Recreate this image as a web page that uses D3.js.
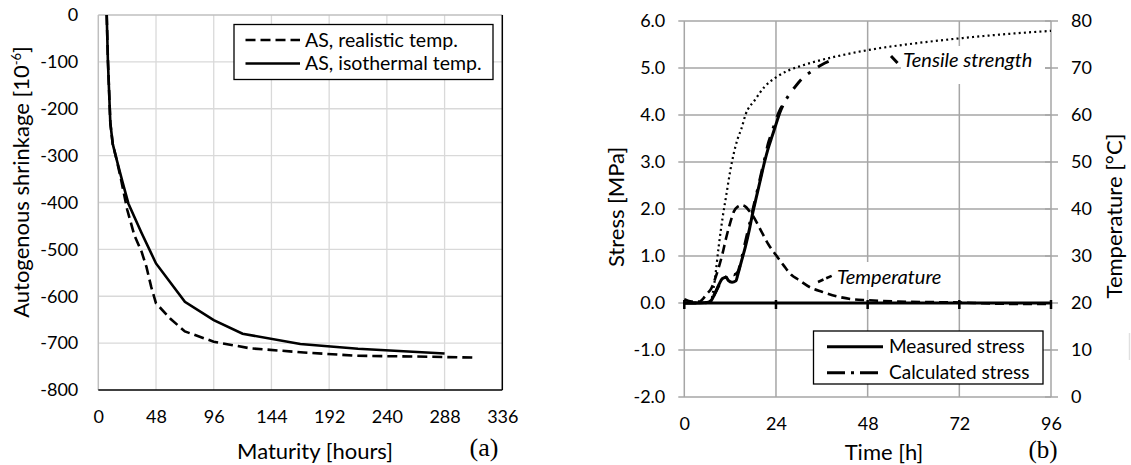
<!DOCTYPE html>
<html>
<head>
<meta charset="utf-8">
<script src="https://cdn.jsdelivr.net/npm/d3@7"></script>
<style>
body { margin: 0; background: #fff; }
text { font-family: Lato, "Open Sans", sans-serif; fill: #000; }
</style>
</head>
<body>
<div id="chart"></div>
<script>
// ---- (a) autogenous shrinkage ----
const maturityRealistic = [7, 8, 10, 12, 15, 19, 24, 30, 36, 40, 44, 48, 60, 72, 96, 126, 171, 215, 275, 315];
const shrinkRealistic = [0, -95, -230, -275, -306, -352, -415, -470, -505, -537, -580, -615, -648, -675, -697, -711, -720, -727, -729, -731];
const maturityIsothermal = [7, 8, 10, 12, 15, 20, 25, 36, 48, 72, 96, 120, 168, 216, 288];
const shrinkIsothermal = [0, -100, -230, -275, -306, -355, -402, -465, -530, -612, -651, -680, -702, -712, -722];
const maturityTicks = [0, 48, 96, 144, 192, 240, 288, 336];
const shrinkTicks = [0, -100, -200, -300, -400, -500, -600, -700, -800];

// ---- (b) stress and temperature ----
const timeMeasured = [0, 4, 6, 7, 8, 9, 10, 11, 11.5, 12.5, 13.5, 14, 15, 16, 17, 18, 19, 20, 21, 22, 23, 24, 25, 25.8];
const stressMeasured = [0, 0, 0.01, 0.05, 0.2, 0.38, 0.52, 0.55, 0.48, 0.44, 0.47, 0.6, 0.9, 1.2, 1.55, 1.95, 2.3, 2.65, 3.0, 3.3, 3.55, 3.8, 4.05, 4.2];
const timeCalculated = [0, 4, 6, 7, 8, 9, 10, 11, 12, 13, 14, 15, 16, 17, 18, 19, 20, 21, 22, 23, 24, 25, 26, 27.2, 29, 31, 33.5, 36, 39];
const stressCalculated = [0, 0, 0.01, 0.05, 0.2, 0.36, 0.5, 0.56, 0.65, 0.6, 0.66, 0.95, 1.3, 1.65, 2.0, 2.35, 2.7, 3.05, 3.4, 3.65, 3.9, 4.1, 4.25, 4.4, 4.6, 4.79, 4.94, 5.07, 5.18];
const timeStrength = [7, 8, 9, 10, 11, 12, 13, 14, 15, 16, 18.5, 21, 24, 27, 30, 34, 40, 48, 60, 72, 84, 96];
const tensileStrength = [0, 0.5, 1.2, 1.8, 2.3, 2.8, 3.2, 3.5, 3.72, 4.0, 4.32, 4.6, 4.8, 4.94, 5.03, 5.13, 5.25, 5.38, 5.52, 5.63, 5.72, 5.79];
const timeTemp = [0, 2, 4, 5, 6, 7, 8, 9, 10, 11, 12, 13, 14, 15, 16, 17, 18, 20, 22, 24, 26, 28, 30, 33, 36, 40, 44, 48, 56, 64, 72, 80, 88, 96];
const temperature = [20.8, 20.3, 20.3, 21, 22, 23, 25, 27.5, 30.5, 34, 37, 39.5, 40.5, 40.8, 40.5, 39.6, 38.5, 35.5, 32.5, 30.2, 28, 26, 24.9, 23.3, 22.4, 21.4, 20.8, 20.6, 20.3, 20.2, 20.1, 19.9, 19.8, 19.8];
const timeTicks = [0, 24, 48, 72, 96];
const stressTicks = [-2, -1, 0, 1, 2, 3, 4, 5, 6];
const tempTicks = [0, 10, 20, 30, 40, 50, 60, 70, 80];

const width = 1131, height = 465;
const svg = d3.select("#chart").append("svg").attr("width", width).attr("height", height);
const hyphen = s => s.replace("\u2212", "-");

// ================= chart (a) =================
const xA = d3.scaleLinear().domain([0, 336]).range([98.3, 502.3]);
const yA = d3.scaleLinear().domain([-800, 0]).range([390, 15]);
const gA = svg.append("g");

// gridlines
gA.append("g").selectAll("line.v").data(maturityTicks.slice(1, -1)).join("line")
    .attr("x1", d => xA(d)).attr("x2", d => xA(d)).attr("y1", yA(0)).attr("y2", yA(-800))
    .attr("stroke", "#d9d9d9").attr("stroke-width", 1.3);
gA.append("g").selectAll("line.h").data(shrinkTicks.slice(1, -1)).join("line")
    .attr("x1", xA(0)).attr("x2", xA(336)).attr("y1", d => yA(d)).attr("y2", d => yA(d))
    .attr("stroke", "#d9d9d9").attr("stroke-width", 1.3);
// frame: top/left gray, bottom/right black
gA.append("line").attr("x1", xA(0)).attr("x2", xA(336)).attr("y1", yA(0)).attr("y2", yA(0)).attr("stroke", "#bfbfbf").attr("stroke-width", 1.5);
gA.append("line").attr("x1", xA(0)).attr("x2", xA(0)).attr("y1", yA(0)).attr("y2", yA(-800)).attr("stroke", "#bfbfbf").attr("stroke-width", 1.5);
gA.append("line").attr("x1", xA(0)).attr("x2", xA(336)).attr("y1", yA(-800)).attr("y2", yA(-800)).attr("stroke", "#000").attr("stroke-width", 1.5);
gA.append("line").attr("x1", xA(336)).attr("x2", xA(336)).attr("y1", yA(0)).attr("y2", yA(-800)).attr("stroke", "#000").attr("stroke-width", 1.5);

// tick labels via d3 axes (no tick lines)
const axA_y = gA.append("g").attr("transform", `translate(${xA(0)},0)`)
    .call(d3.axisLeft(yA).tickValues(shrinkTicks).tickSize(0).tickPadding(20).tickFormat(d => hyphen(d3.format("d")(d))));
const axA_x = gA.append("g").attr("transform", `translate(0,${yA(-800)})`)
    .call(d3.axisBottom(xA).tickValues(maturityTicks).tickSize(0).tickPadding(20).tickFormat(d3.format("d")));
[axA_y, axA_x].forEach(ax => {
    ax.select(".domain").remove();
    ax.selectAll("text").style("font-size", "18px").style("font-family", "Lato");
});
axA_x.selectAll("text").attr("dy", "0.71em").attr("y", 20);

const lineA = d3.line().x(d => xA(d[0])).y(d => yA(d[1]));
gA.append("path").datum(d3.zip(maturityRealistic, shrinkRealistic))
    .attr("d", lineA).attr("fill", "none").attr("stroke", "#000").attr("stroke-width", 2.6)
    .attr("stroke-dasharray", "10,5");
gA.append("path").datum(d3.zip(maturityIsothermal, shrinkIsothermal))
    .attr("d", lineA).attr("fill", "none").attr("stroke", "#000").attr("stroke-width", 2.6);

// legend (a)
const legA = gA.append("g");
legA.append("rect").attr("x", 234).attr("y", 24.5).attr("width", 259).attr("height", 55)
    .attr("fill", "#fff").attr("stroke", "#000").attr("stroke-width", 1.3);
const legAItems = [{ label: "AS, realistic temp.", dash: "10,5" }, { label: "AS, isothermal temp.", dash: null }];
legA.selectAll("g.item").data(legAItems).join("g").attr("class", "item")
    .attr("transform", (d, i) => `translate(0,${40 + i * 23.5})`)
    .each(function (d) {
        const g = d3.select(this);
        g.append("line").attr("x1", 245.5).attr("x2", 300).attr("stroke", "#000").attr("stroke-width", 2.6)
            .attr("stroke-dasharray", d.dash);
        g.append("text").attr("x", 305).attr("dy", "0.35em").style("font-size", "19.5px").text(d.label);
    });

// titles (a)
gA.append("text").attr("transform", "translate(29,182) rotate(-90)").attr("text-anchor", "middle")
    .style("font-size", "22px")
    .call(t => {
        t.append("tspan").text("Autogenous shrinkage [10");
        t.append("tspan").attr("baseline-shift", "super").style("font-size", "13px").text("-6");
        t.append("tspan").text("]");
    });
gA.append("text").attr("x", 315).attr("y", 451).attr("dy", "0.35em").attr("text-anchor", "middle")
    .style("font-size", "22px").text("Maturity [hours]");
gA.append("text").attr("x", 484).attr("y", 447).attr("dy", "0.35em").attr("text-anchor", "middle")
    .style("font-family", "'Liberation Serif', serif").style("font-size", "26px").text("(a)");

// ================= chart (b) =================
const xB = d3.scaleLinear().domain([0, 96]).range([684.3, 1051]);
const yB = d3.scaleLinear().domain([-2, 6]).range([397, 21]);
const yT = d3.scaleLinear().domain([0, 80]).range([397, 21]);
const gB = svg.append("g");
const gridGray = "#a6a6a6";

// vertical gridlines (incl. left and right axis lines)
gB.append("g").selectAll("line").data(timeTicks).join("line")
    .attr("x1", d => xB(d)).attr("x2", d => xB(d)).attr("y1", yB(6)).attr("y2", yB(-2))
    .attr("stroke", gridGray).attr("stroke-width", 1.5);
// horizontal gridlines with outward ticks on the left
gB.append("g").selectAll("line").data(stressTicks).join("line")
    .attr("x1", xB(0) - 6).attr("x2", xB(96)).attr("y1", d => yB(d)).attr("y2", d => yB(d))
    .attr("stroke", gridGray).attr("stroke-width", 1.5);
// right axis ticks (cross the axis)
gB.append("g").selectAll("line").data(tempTicks).join("line")
    .attr("x1", xB(96) - 6).attr("x2", xB(96) + 7).attr("y1", d => yT(d)).attr("y2", d => yT(d))
    .attr("stroke", gridGray).attr("stroke-width", 1.5);

// tick labels
const axB_y = gB.append("g").attr("transform", `translate(${xB(0)},0)`)
    .call(d3.axisLeft(yB).tickValues(stressTicks).tickSize(0).tickPadding(19).tickFormat(d => hyphen(d3.format(".1f")(d))));
const axB_r = gB.append("g").attr("transform", `translate(${xB(96)},0)`)
    .call(d3.axisRight(yT).tickValues(tempTicks).tickSize(0).tickPadding(20).tickFormat(d3.format("d")));
const axB_x = gB.append("g").attr("transform", `translate(0,${yB(-2)})`)
    .call(d3.axisBottom(xB).tickValues(timeTicks).tickSize(0).tickPadding(20).tickFormat(d3.format("d")));
[axB_y, axB_r, axB_x].forEach(ax => {
    ax.select(".domain").remove();
    ax.selectAll("text").style("font-size", "18px").style("font-family", "Lato");
});
axB_x.selectAll("text").attr("dy", "0.71em").attr("y", 20);

// label backgrounds (hide gridlines behind leader labels)
gB.append("rect").attr("x", 901).attr("y", 46).attr("width", 144).attr("height", 38).attr("fill", "#fff");
gB.append("rect").attr("x", 835).attr("y", 262).attr("width", 106).attr("height", 28).attr("fill", "#fff");

// zero axis line with ticks
gB.append("line").attr("x1", xB(0) - 1).attr("x2", xB(96)).attr("y1", yB(0)).attr("y2", yB(0))
    .attr("stroke", "#000").attr("stroke-width", 3);
gB.append("g").selectAll("line").data(timeTicks).join("line")
    .attr("x1", d => xB(d)).attr("x2", d => xB(d)).attr("y1", yB(0) - 3).attr("y2", yB(0) + 6)
    .attr("stroke", "#000").attr("stroke-width", 2.5);

const curveB = d3.curveMonotoneX;
const lineStress = d3.line().curve(curveB).x(d => xB(d[0])).y(d => yB(d[1]));
const lineTemp = d3.line().curve(curveB).x(d => xB(d[0])).y(d => yT(d[1]));

gB.append("path").datum(d3.zip(timeStrength, tensileStrength)).attr("d", lineStress)
    .attr("fill", "none").attr("stroke", "#000").attr("stroke-width", 2.2).attr("stroke-dasharray", "2,3.2");
gB.append("path").datum(d3.zip(timeTemp, temperature)).attr("d", lineTemp)
    .attr("fill", "none").attr("stroke", "#000").attr("stroke-width", 2.6).attr("stroke-dasharray", "9,5");
gB.append("path").datum(d3.zip(timeMeasured, stressMeasured)).attr("d", lineStress)
    .attr("fill", "none").attr("stroke", "#000").attr("stroke-width", 3);
gB.append("path").datum(d3.zip(timeCalculated, stressCalculated)).attr("d", lineStress)
    .attr("fill", "none").attr("stroke", "#000").attr("stroke-width", 3).attr("stroke-dasharray", "12,9,3,9");

// leader labels
gB.append("line").attr("x1", 891).attr("y1", 56).attr("x2", 897.5).attr("y2", 63)
    .attr("stroke", "#000").attr("stroke-width", 3);
gB.append("text").attr("x", 903).attr("y", 67).style("font-size", "20px").style("font-style", "italic").text("Tensile strength");
gB.append("line").attr("x1", 818).attr("y1", 282).attr("x2", 833.5).attr("y2", 275)
    .attr("stroke", "#000").attr("stroke-width", 2.6).attr("stroke-dasharray", "6,3");
gB.append("text").attr("x", 837).attr("y", 283.5).style("font-size", "20px").style("font-style", "italic").text("Temperature");

// legend (b)
const legB = gB.append("g");
legB.append("rect").attr("x", 813.5).attr("y", 331).attr("width", 229.5).attr("height", 53)
    .attr("fill", "#fff").attr("stroke", "#000").attr("stroke-width", 1.3);
const legBItems = [{ label: "Measured stress", dash: null }, { label: "Calculated stress", dash: "18,6,3,6" }];
legB.selectAll("g.item").data(legBItems).join("g").attr("class", "item")
    .attr("transform", (d, i) => `translate(0,${346.7 + i * 26})`)
    .each(function (d) {
        const g = d3.select(this);
        g.append("line").attr("x1", 827).attr("x2", 883).attr("stroke", "#000").attr("stroke-width", 3)
            .attr("stroke-dasharray", d.dash);
        g.append("text").attr("x", 889).attr("dy", "0.35em").style("font-size", "19px").text(d.label);
    });

// titles (b)
gB.append("text").attr("transform", "translate(616,207) rotate(-90)").attr("text-anchor", "middle")
    .attr("dy", "0.35em").style("font-size", "22px").text("Stress [MPa]");
gB.append("text").attr("transform", "translate(1114,216) rotate(-90)").attr("text-anchor", "middle")
    .attr("dy", "0.35em").style("font-size", "22px").text("Temperature [°C]");
gB.append("text").attr("x", 884).attr("y", 452).attr("dy", "0.35em").attr("text-anchor", "middle")
    .style("font-size", "22px").text("Time [h]");
gB.append("text").attr("x", 1043).attr("y", 449).attr("dy", "0.35em").attr("text-anchor", "middle")
    .style("font-family", "'Liberation Serif', serif").style("font-size", "25px").text("(b)");
// faint mark at the right edge
gB.append("line").attr("x1", 1129.5).attr("x2", 1129.5).attr("y1", 333).attr("y2", 360)
    .attr("stroke", "#e0e0e0").attr("stroke-width", 1.5);
</script>
</body>
</html>
